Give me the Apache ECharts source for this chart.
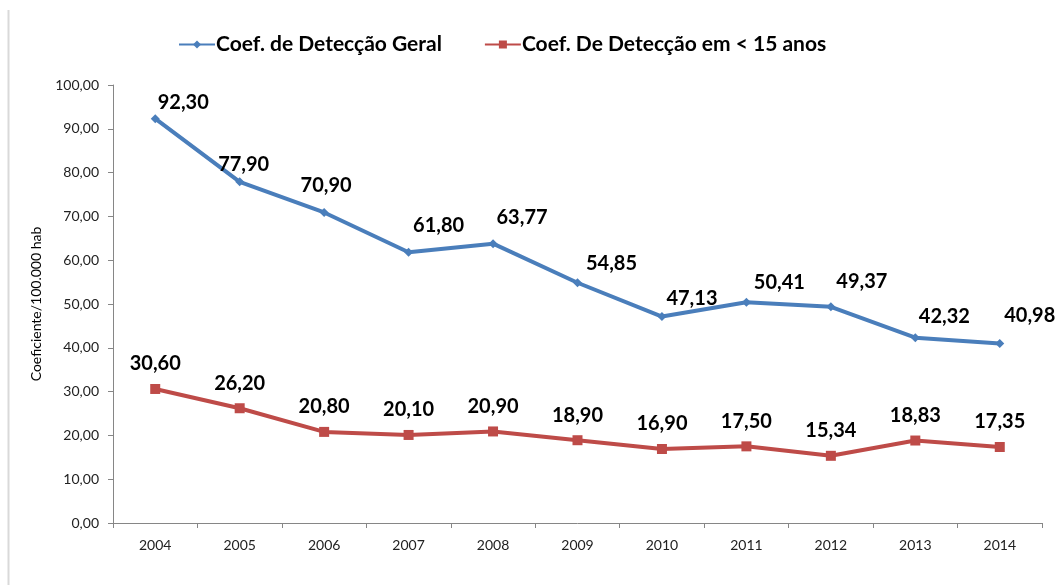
<!DOCTYPE html>
<html>
<head>
<meta charset="utf-8">
<script src="https://cdn.jsdelivr.net/npm/echarts@6/dist/echarts.min.js"></script>
<style>
  html, body { margin: 0; padding: 0; background: #fff; }
  #chart { width: 1057px; height: 585px; }
</style>
</head>
<body>
<div id="chart"></div>
<script>
// dados
var anos = ['2004', '2005', '2006', '2007', '2008', '2009', '2010', '2011', '2012', '2013', '2014']
var geral = [92.30, 77.90, 70.90, 61.80, 63.77, 54.85, 47.13, 50.41, 49.37, 42.32, 40.98]
var menor15 = [30.60, 26.20, 20.80, 20.10, 20.90, 18.90, 16.90, 17.50, 15.34, 18.83, 17.35]
var nomeGeral = 'Coef. de Detecção Geral'
var nomeMenor = 'Coef. De Detecção em < 15 anos'

// deslocamento dos rótulos da série azul (posições manuais como no Excel)
var offsetsGeral = [[28, 6], [4, 5], [2, -4], [30, -4], [29, -4], [34, 3], [30, 4], [33, 3], [31, -3], [29, 1], [30, -5]]

function fmt (v) {
  return v.toFixed(2).replace('.', ',')
}

var labelFont = {
  fontFamily: 'Lato',
  fontWeight: 'bold',
  fontSize: 20,
  color: '#000'
}

var option = {
  animation: false,
  textStyle: { fontFamily: 'Lato' },
  legend: {
    top: 29,
    left: 173,
    itemGap: 42,
    itemWidth: 36,
    itemHeight: 10,
    textStyle: { fontFamily: 'Lato', fontWeight: 'bold', fontSize: 21, color: '#000', padding: [0, 0, 0, -4] },
    data: [nomeGeral, nomeMenor]
  },
  grid: { left: 113, right: 15, top: 85, bottom: 62 },
  graphic: [{
    type: 'line',
    shape: { x1: 8.5, y1: 10, x2: 8.5, y2: 585 },
    style: { stroke: '#d9d9d9', lineWidth: 2 }
  }],
  xAxis: {
    type: 'category',
    data: anos,
    boundaryGap: true,
    axisLine: { lineStyle: { color: '#868686', width: 1 } },
    axisTick: { show: true, length: 5, lineStyle: { color: '#868686' } },
    axisLabel: { color: '#222', fontSize: 14, fontFamily: 'Lato', margin: 15 }
  },
  yAxis: {
    type: 'value',
    min: 0,
    max: 100,
    interval: 10,
    name: 'Coeficiente/100.000 hab',
    nameLocation: 'middle',
    nameGap: 70,
    nameTextStyle: { color: '#000', fontSize: 14, fontFamily: 'Lato' },
    axisLine: { show: true, lineStyle: { color: '#868686', width: 1 } },
    axisTick: { show: true, length: 5, lineStyle: { color: '#868686' } },
    splitLine: { show: false },
    axisLabel: {
      color: '#222', fontSize: 14, fontFamily: 'Lato', margin: 14,
      formatter: function (v) { return fmt(v) }
    }
  },
  series: [
    {
      name: nomeGeral,
      type: 'line',
      data: geral.map(function (v, i) {
        return { value: v, label: { offset: offsetsGeral[i] } }
      }),
      symbol: 'diamond',
      symbolSize: 9,
      lineStyle: { color: '#4A7EBB', width: 4 },
      itemStyle: { color: '#4A7EBB' },
      label: Object.assign({
        show: true,
        position: 'top',
        distance: 8,
        formatter: function (p) { return fmt(p.value) }
      }, labelFont)
    },
    {
      name: nomeMenor,
      type: 'line',
      data: menor15,
      symbol: 'rect',
      symbolSize: 10,
      lineStyle: { color: '#BE4B48', width: 4 },
      itemStyle: { color: '#BE4B48' },
      label: Object.assign({
        show: true,
        position: 'top',
        distance: 10,
        formatter: function (p) { return fmt(p.value) }
      }, labelFont)
    }
  ]
}

var myChart = echarts.init(document.getElementById('chart'))
myChart.setOption(option)
window.addEventListener('resize', function () {
  myChart.resize()
})
</script>
</body>
</html>
